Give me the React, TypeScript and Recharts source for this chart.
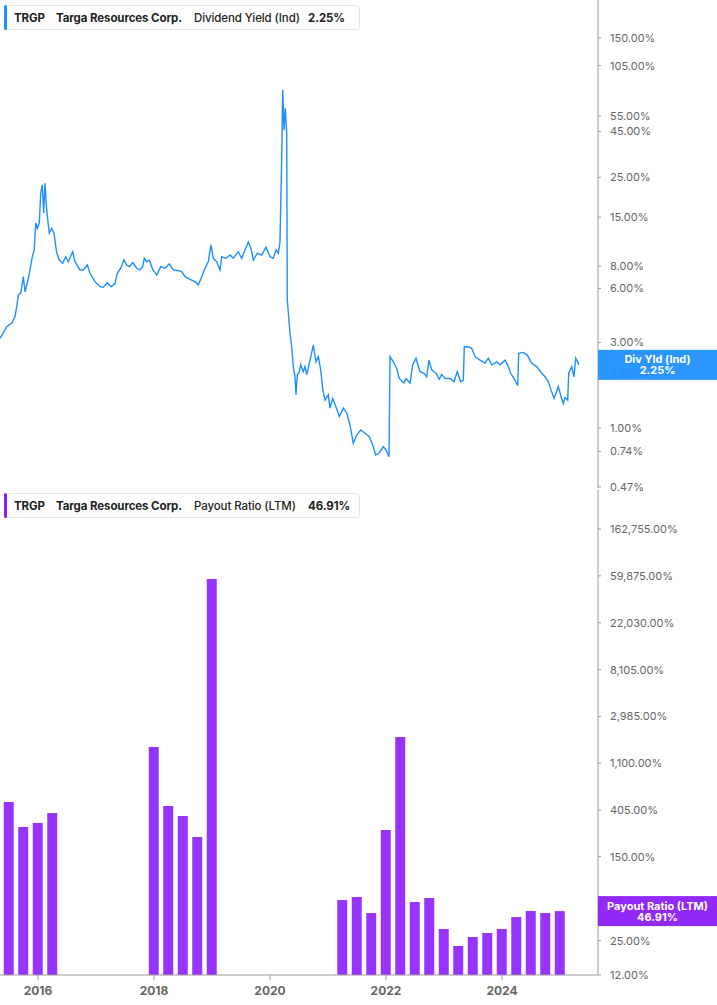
import React from "react";
import { Bar, ComposedChart, Line, ReferenceLine, XAxis, YAxis } from "recharts";

// dividend yield (Ind), % — decimal years
const yieldDates = [
  2015.345, 2015.402, 2015.461, 2015.547, 2015.604, 2015.633, 2015.661, 2015.702, 2015.747, 2015.776,
  2015.816, 2015.862, 2015.902, 2015.936, 2015.961, 2015.988, 2016.023, 2016.047, 2016.074, 2016.098,
  2016.121, 2016.15, 2016.195, 2016.236, 2016.276, 2016.323, 2016.367, 2016.426, 2016.478, 2016.523,
  2016.598, 2016.638, 2016.724, 2016.781, 2016.85, 2016.897, 2016.983, 2017.069, 2017.126, 2017.195,
  2017.259, 2017.328, 2017.367, 2017.426, 2017.483, 2017.529, 2017.574, 2017.633, 2017.702, 2017.759,
  2017.805, 2017.833, 2017.874, 2017.919, 2017.978, 2018.047, 2018.116, 2018.19, 2018.264, 2018.333,
  2018.419, 2018.478, 2018.535, 2018.621, 2018.707, 2018.764, 2018.823, 2018.879, 2018.936, 2018.983,
  2019.023, 2019.081, 2019.138, 2019.167, 2019.241, 2019.31, 2019.367, 2019.453, 2019.512, 2019.569,
  2019.626, 2019.673, 2019.712, 2019.781, 2019.857, 2019.931, 2020.0, 2020.057, 2020.104, 2020.143,
  2020.172, 2020.202, 2020.219, 2020.242, 2020.264, 2020.288, 2020.298, 2020.345, 2020.374, 2020.402,
  2020.431, 2020.448, 2020.471, 2020.505, 2020.529, 2020.574, 2020.603, 2020.633, 2020.69, 2020.747,
  2020.793, 2020.833, 2020.874, 2020.909, 2020.948, 2021.005, 2021.034, 2021.081, 2021.138, 2021.195,
  2021.264, 2021.323, 2021.379, 2021.436, 2021.495, 2021.564, 2021.638, 2021.712, 2021.771, 2021.823,
  2021.885, 2021.954, 2022.0, 2022.052, 2022.069, 2022.126, 2022.185, 2022.229, 2022.31, 2022.345,
  2022.414, 2022.461, 2022.517, 2022.586, 2022.655, 2022.702, 2022.741, 2022.788, 2022.862, 2022.919,
  2022.96, 2023.017, 2023.103, 2023.172, 2023.229, 2023.288, 2023.333, 2023.35, 2023.419, 2023.478,
  2023.535, 2023.621, 2023.707, 2023.764, 2023.823, 2023.909, 2023.966, 2024.052, 2024.109, 2024.15,
  2024.224, 2024.271, 2024.288, 2024.367, 2024.436, 2024.512, 2024.598, 2024.685, 2024.741, 2024.798,
  2024.857, 2024.897, 2024.971, 2025.017, 2025.057, 2025.086, 2025.133, 2025.15, 2025.202, 2025.241,
  2025.271, 2025.328,
];
const yieldValues = [
  3.16, 3.39, 3.67, 3.85, 4.18, 4.75, 5.52, 5.66, 6.98, 5.75,
  6.44, 7.61, 9.02, 9.84, 13.9, 13.0, 13.9, 20.5, 22.7, 15.8,
  23.2, 16.4, 12.2, 13.0, 12.2, 9.46, 8.65, 8.32, 9.02, 8.46,
  9.62, 8.46, 7.61, 7.61, 8.11, 7.29, 6.55, 6.14, 6.09, 6.46,
  6.14, 6.41, 7.29, 7.78, 8.65, 8.11, 7.94, 8.35, 7.78, 7.61,
  7.94, 8.84, 8.46, 8.65, 7.67, 7.13, 7.94, 7.78, 8.22, 7.61,
  7.54, 7.45, 6.98, 6.75, 6.55, 6.28, 6.98, 7.78, 8.46, 10.5,
  8.84, 8.46, 7.61, 9.02, 8.84, 9.22, 8.84, 9.62, 8.84, 9.84,
  10.9, 10.0, 8.65, 9.42, 9.22, 10.2, 9.02, 8.84, 9.84, 9.42,
  10.9, 31.9, 76.8, 45.9, 60.7, 44.0, 5.18, 3.37, 2.84, 2.2,
  1.93, 1.53, 1.98, 2.06, 2.25, 2.06, 2.2, 1.98, 2.39, 2.9,
  2.34, 2.5, 2.11, 1.66, 1.43, 1.53, 1.29, 1.46, 1.31, 1.16,
  1.29, 1.21, 1.04, 0.822, 0.914, 0.975, 0.934, 0.894, 0.804, 0.707,
  0.728, 0.787, 0.754, 0.692, 2.5, 2.34, 2.15, 1.89, 1.78, 1.89,
  1.78, 2.25, 2.45, 2.06, 2.02, 1.93, 2.39, 2.11, 2.02, 1.87,
  1.99, 1.89, 1.89, 1.81, 2.06, 1.81, 1.85, 2.84, 2.84, 2.78,
  2.5, 2.39, 2.3, 2.45, 2.25, 2.34, 2.25, 2.39, 2.2, 2.02,
  1.85, 1.72, 2.61, 2.64, 2.55, 2.3, 2.2, 2.02, 1.93, 1.81,
  1.59, 1.46, 1.7, 1.5, 1.37, 1.48, 1.43, 2.02, 2.2, 1.93,
  2.45, 2.25,
];

// payout ratio (LTM), % — quarter ends
const payoutDates = [
  2015.5, 2015.75, 2016.0, 2016.25,
  2018.0, 2018.25, 2018.5, 2018.75, 2019.0,
  2021.25, 2021.5, 2021.75, 2022.0, 2022.25, 2022.5, 2022.75, 2023.0,
  2023.25, 2023.5, 2023.75, 2024.0, 2024.25, 2024.5, 2024.75, 2025.0,
];
const payoutValues = [
  481, 282, 307, 380,
  1556, 442, 357, 228, 56000,
  59.4, 63.4, 45, 264, 1923, 56.9, 62, 32,
  22.3, 27, 29.4, 32, 41.3, 47, 45, 46.91,
];

const yieldTicks = [0.47, 0.74, 1, 2, 3, 6, 8, 15, 25, 45, 55, 105, 150];
const payoutTicks = [12, 25, 55, 150, 405, 1100, 2985, 8105, 22030, 59875, 162755];
const yearTicks = [2016, 2018, 2020, 2022, 2024];

const yieldData = yieldDates.map((t, i) => ({ t, v: yieldValues[i] }));
const payoutData = payoutDates.map((t, i) => ({ t, v: payoutValues[i] }));
const lastYield = yieldValues[yieldValues.length - 1];
const lastPayout = payoutValues[payoutValues.length - 1];

const X_DOMAIN = [2015.345, 2025.655];
const YIELD_DOMAIN = [0.4628, 243.8];
const PAYOUT_DOMAIN = [12, 374000];
const BLUE = "#1e8fff";
const PURPLE = "#9633ff";
const TAG_PURPLE = "#8a1cf6";
const AXIS = "#9a9a9a";

const pct = (v: number) =>
  v.toLocaleString("en-US", { minimumFractionDigits: 2, maximumFractionDigits: 2 }) + "%";

// price-tag style box sitting on the right axis
function SideTag({ x1, x2, y1, color, title, value }: any) {
  const x = Math.max(x1, x2);
  return (
    <g>
      <rect x={x} y={y1 - 15} width={119} height={30} fill={color} fillOpacity={0.94} />
      <text x={x + 59.5} y={y1 - 1.5} textAnchor="middle" fill="#fff" fontSize={11} fontWeight={700}>
        {title}
      </text>
      <text x={x + 59.5} y={y1 + 9.5} textAnchor="middle" fill="#fff" fontSize={11} fontWeight={700}>
        {value}
      </text>
    </g>
  );
}

function Legend({ top, color, metric, value }: { top: number; color: string; metric: string; value: string }) {
  const item = (left: number, text: string, weight: number) => (
    <span style={{ position: "absolute", left, top: 5, fontWeight: weight, whiteSpace: "nowrap" }}>{text}</span>
  );
  return (
    <div
      style={{
        position: "absolute",
        left: 4,
        top,
        width: 356,
        height: 25,
        background: "#fff",
        border: "1px solid #e6e6e6",
        borderRadius: 3,
        boxSizing: "border-box",
        fontSize: 11.5,
        color: "#222",
        lineHeight: "14px",
        letterSpacing: -0.1,
      }}
    >
      <div style={{ position: "absolute", left: -1, top: -1, width: 3, height: 25, background: color, borderRadius: 2 }} />
      {item(9, "TRGP", 700)}
      {item(51, "Targa Resources Corp.", 700)}
      {item(189, metric, 500)}
      {item(303, value, 700)}
    </div>
  );
}

const tickStyle = { fill: "#666", fontSize: 11, textAnchor: "start" as const };
const bareAxis = { tick: false, tickLine: false, axisLine: false } as const;

export default function App() {
  return (
    <div
      style={{
        position: "absolute",
        left: 0,
        top: 0,
        width: 717,
        height: 1005,
        background: "#fff",
        fontFamily: "Inter, 'Noto Sans', sans-serif",
      }}
    >
      {/* dividend yield */}
      <div style={{ position: "absolute", left: 0, top: 0 }}>
        <ComposedChart width={717} height={500} data={yieldData} margin={{ top: 0, right: 0, bottom: 12, left: 0 }}>
          <XAxis
            dataKey="t"
            type="number"
            domain={X_DOMAIN}
            ticks={yearTicks}
            allowDataOverflow
            height={0}
            tick={false}
            tickLine={false}
            axisLine={{ stroke: "#dcdcdc" }}
          />
          <YAxis
            orientation="right"
            scale="log"
            domain={YIELD_DOMAIN}
            allowDataOverflow
            ticks={yieldTicks}
            interval={0}
            width={119}
            tickFormatter={pct}
            tick={tickStyle}
            tickSize={3}
            tickMargin={9}
            axisLine={{ stroke: AXIS }}
            tickLine={{ stroke: AXIS }}
          />
          <Line
            type="linear"
            dataKey="v"
            stroke={BLUE}
            strokeWidth={1.4}
            dot={false}
            activeDot={false}
            isAnimationActive={false}
          />
        </ComposedChart>
      </div>

      {/* payout ratio */}
      <div style={{ position: "absolute", left: 0, top: 490 }}>
        <ComposedChart width={717} height={515} data={payoutData} margin={{ top: 0, right: 0, bottom: 0, left: 0 }}>
          <XAxis
            dataKey="t"
            type="number"
            domain={X_DOMAIN}
            ticks={yearTicks}
            allowDataOverflow
            height={30}
            tickFormatter={(v) => String(v)}
            tick={{ fill: "#666", fontSize: 12, fontWeight: 700 }}
            tickSize={5}
            tickMargin={6}
            axisLine={{ stroke: AXIS }}
            tickLine={{ stroke: AXIS }}
          />
          <YAxis
            orientation="right"
            scale="log"
            domain={PAYOUT_DOMAIN}
            allowDataOverflow
            ticks={payoutTicks}
            interval={0}
            width={119}
            tickFormatter={pct}
            tick={tickStyle}
            tickSize={3}
            tickMargin={9}
            axisLine={{ stroke: AXIS }}
            tickLine={{ stroke: AXIS }}
          />
          <Bar dataKey="v" fill={PURPLE} barSize={10} isAnimationActive={false} />
        </ComposedChart>
      </div>

      {/* last-value tags, drawn above the axis labels */}
      <div style={{ position: "absolute", left: 0, top: 0 }}>
        <ComposedChart width={717} height={500} data={yieldData} margin={{ top: 0, right: 0, bottom: 12, left: 0 }}>
          <XAxis dataKey="t" type="number" domain={X_DOMAIN} allowDataOverflow height={0} {...bareAxis} />
          <YAxis orientation="right" scale="log" domain={YIELD_DOMAIN} allowDataOverflow width={119} {...bareAxis} />
          <ReferenceLine
            y={lastYield}
            shape={(p: any) => <SideTag {...p} color={BLUE} title="Div Yld (Ind)" value={pct(lastYield)} />}
          />
        </ComposedChart>
      </div>
      <div style={{ position: "absolute", left: 0, top: 490 }}>
        <ComposedChart width={717} height={515} data={payoutData} margin={{ top: 0, right: 0, bottom: 0, left: 0 }}>
          <XAxis dataKey="t" type="number" domain={X_DOMAIN} allowDataOverflow height={30} {...bareAxis} />
          <YAxis orientation="right" scale="log" domain={PAYOUT_DOMAIN} allowDataOverflow width={119} {...bareAxis} />
          <ReferenceLine
            y={lastPayout}
            shape={(p: any) => (
              <SideTag {...p} color={TAG_PURPLE} title="Payout Ratio (LTM)" value={pct(lastPayout)} />
            )}
          />
        </ComposedChart>
      </div>

      <Legend top={5} color={BLUE} metric="Dividend Yield (Ind)" value={pct(lastYield)} />
      <Legend top={493} color={TAG_PURPLE} metric="Payout Ratio (LTM)" value={pct(lastPayout)} />
    </div>
  );
}
